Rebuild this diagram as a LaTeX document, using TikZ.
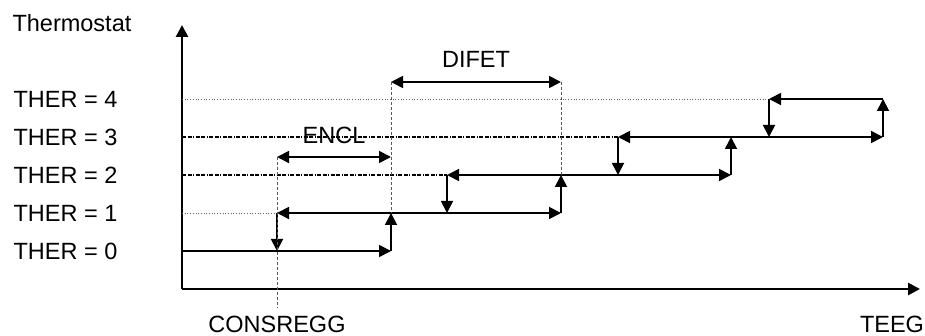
\documentclass[tikz,border=0pt]{standalone}
\usepackage{fontspec}
\setmainfont{Liberation Sans}
\usetikzlibrary{arrows.meta, positioning}

\begin{document}
\begin{tikzpicture}[
                        x=1pt, y=-1pt,
                        >={Triangle[length=12pt, width=12pt]},
                        font=\fontsize{23.5}{28}\selectfont
                    ]
                    \tikzset{
                        axisline/.style = {line width=2.6pt},
                        stateline/.style = {line width=1.8pt},
                        guidedot/.style = {line width=0.7pt, dotted, black!60},
                        guidedash/.style = {line width=1.3pt, dash pattern=on 4pt off 1.5pt on 4pt off 1.5pt on 1pt off 1.5pt},
                        markline/.style = {line width=0.9pt, densely dashed, black!65},
                        axislabel/.style = {inner sep=0pt}
                    }
                    \useasboundingbox (0,0) rectangle (925,336);

                    % Axes
                    \coordinate (O) at (182,289);
                    \coordinate (Ytop) at (182,25);
                    \coordinate (Xend) at (920,289);
                    \draw[axisline, ->] (O) -- (Ytop);
                    \draw[axisline, ->] (O) -- (Xend);
                    \node[anchor=west] (thermo) at (9,23) {Thermostat};

                    % Levels THER = 0..4
                    \foreach \k in {0,...,4} {
                        \pgfmathsetmacro\yy{251-38*\k}
                        \node[anchor=west] (ther\k) at (10,\yy) {THER = \k};
                        \coordinate (lev\k) at (182,\yy);
                    }

                    % Switching points (down / up) between level k-1 and k
                    \foreach \k/\xd/\xu in {1/277/391, 2/447/561, 3/618/731, 4/769/883} {
                        \pgfmathsetmacro\ylo{251-38*(\k-1)}
                        \pgfmathsetmacro\yhi{251-38*\k}
                        \coordinate (dlo\k) at (\xd,\ylo);
                        \coordinate (dhi\k) at (\xd,\yhi);
                        \coordinate (ulo\k) at (\xu,\ylo);
                        \coordinate (uhi\k) at (\xu,\yhi);
                    }

                    % Guide lines
                    \draw[guidedot] (lev1) -- (dhi1);
                    \draw[guidedash] (lev2) -- (dhi2);
                    \draw[guidedash] (lev3) -- (dhi3);
                    \draw[guidedot] (lev4) -- (dhi4);

                    % Staircase
                    \draw[axisline] (lev0) -- (dlo1);
                    \draw[stateline, ->] (dlo1) -- (ulo1);
                    \draw[stateline, <->] (dhi1) -- (ulo2);
                    \draw[stateline, <->] (dhi2) -- (ulo3);
                    \draw[stateline, <->] (dhi3) -- (ulo4);
                    \draw[stateline, ->] (uhi4) -- (dhi4);
                    \foreach \k in {1,...,4} {
                        \draw[stateline, ->] (ulo\k) -- (uhi\k);
                        \draw[stateline, ->] (dhi\k) -- (dlo\k);
                    }

                    % ENCL and DIFET
                    \coordinate (encl-l) at (277,157);
                    \coordinate (encl-r) at (391,157);
                    \coordinate (difet-l) at (391,82);
                    \coordinate (difet-r) at (561,82);
                    \coordinate (cons) at (277,308);
                    \draw[markline] (encl-l) -- (cons);
                    \draw[markline] (difet-l) -- (uhi1);
                    \draw[markline] (difet-r) -- (uhi2);
                    \draw[stateline, <->] (encl-l) -- (encl-r);
                    \draw[stateline, <->] (difet-l) -- (difet-r);
                    \node (encl) at (334,135) {ENCL};
                    \node (difet) at (476,59) {DIFET};

                    % Axis labels
                    \node[axislabel, below=8pt of cons] (consregg) {CONSREGG};
                    \node[axislabel] (teeg) at (892,324) {TEEG};

                \end{tikzpicture}
\end{document}
